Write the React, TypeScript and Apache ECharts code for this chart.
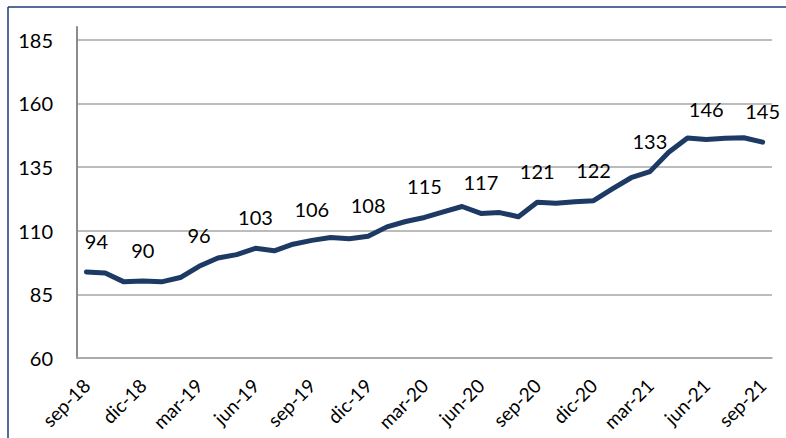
import React, { useEffect, useRef } from "react";
import * as echarts from "echarts";

const months: string[] = [
  "sep-18", "oct-18", "nov-18", "dic-18", "ene-19", "feb-19", "mar-19", "abr-19", "may-19", "jun-19",
  "jul-19", "ago-19", "sep-19", "oct-19", "nov-19", "dic-19", "ene-20", "feb-20", "mar-20", "abr-20",
  "may-20", "jun-20", "jul-20", "ago-20", "sep-20", "oct-20", "nov-20", "dic-20", "ene-21", "feb-21",
  "mar-21", "abr-21", "may-21", "jun-21", "jul-21", "ago-21", "sep-21",
];

const values: number[] = [
  93.8, 93.4, 89.9, 90.2, 89.9, 91.6, 96.0, 99.3, 100.6, 103.1,
  102.1, 104.7, 106.2, 107.3, 106.8, 107.8, 111.5, 113.6, 115.2, 117.4,
  119.5, 116.8, 117.1, 115.5, 121.2, 120.8, 121.4, 121.8, 126.4, 130.8,
  133.2, 140.8, 146.4, 145.8, 146.3, 146.5, 144.8,
];

const shownLabels: string[] = [
  "sep-18", "dic-18", "mar-19", "jun-19", "sep-19", "dic-19", "mar-20",
  "jun-20", "sep-20", "dic-20", "mar-21", "jun-21", "sep-21",
];

const yMin = 60;
const yMax = 190;
const yStep = 25;

export default function App() {
  const ref = useRef<HTMLDivElement>(null);
  useEffect(() => {
    if (!ref.current) return;
    const chart = echarts.init(ref.current, undefined, { renderer: "svg" });
    const font = "Lato";
    chart.setOption({
      animation: false,
      backgroundColor: "#ffffff",
      grid: { left: 77, right: 14, top: 27, bottom: 80, containLabel: false },
      xAxis: {
        type: "category",
        data: months,
        boundaryGap: true,
        axisLine: { show: true, lineStyle: { color: "#a6a6a6", width: 1.5 } },
        axisTick: { show: false },
        axisLabel: {
          rotate: 45,
          interval: (i: number, v: string) => shownLabels.indexOf(v) >= 0,
          color: "#000",
          fontFamily: font,
          fontSize: 19,
          margin: 24,
        },
        splitLine: { show: false },
      },
      yAxis: {
        type: "value",
        min: yMin,
        max: yMax,
        interval: yStep,
        axisLine: { show: true, lineStyle: { color: "#8c8c8c", width: 2 } },
        axisTick: { show: false },
        axisLabel: {
          showMaxLabel: false,
          color: "#000",
          fontFamily: font,
          fontSize: 20,
          margin: 24,
        },
        splitLine: { show: true, showMaxLine: false, lineStyle: { color: "#a6a6a6", width: 1.5 } },
      },
      graphic: [
        { type: "line", shape: { x1: 8, y1: 7, x2: 786, y2: 7 }, style: { stroke: "#1f3a7a", lineWidth: 1.5 } },
        { type: "line", shape: { x1: 8, y1: 7, x2: 8, y2: 438 }, style: { stroke: "#1f3a7a", lineWidth: 1.5 } },
      ],
      series: [
        {
          type: "line",
          data: values.map((v, i) => ({
            value: v,
            label: {
              show: shownLabels.indexOf(months[i]) >= 0,
              offset: i === 0 ? [10, 0] : [0, 0],
            },
          })),
          showSymbol: true,
          symbol: "circle",
          symbolSize: 2,
          itemStyle: { color: "rgba(0,0,0,0)", borderWidth: 0 },
          lineStyle: { color: "#1c3a63", width: 5, cap: "round", join: "round" },
          label: {
            show: false,
            position: "top",
            distance: 20,
            formatter: (p: any) => String(Math.round(p.value)),
            color: "#000",
            fontFamily: font,
            fontSize: 20,
          },
        },
      ],
    });
    return () => chart.dispose();
  }, []);
  return (
    <div style={{ position: "absolute", left: 0, top: 0, width: 786, height: 438 }}>
      <div ref={ref} style={{ width: 786, height: 438 }} />
    </div>
  );
}
